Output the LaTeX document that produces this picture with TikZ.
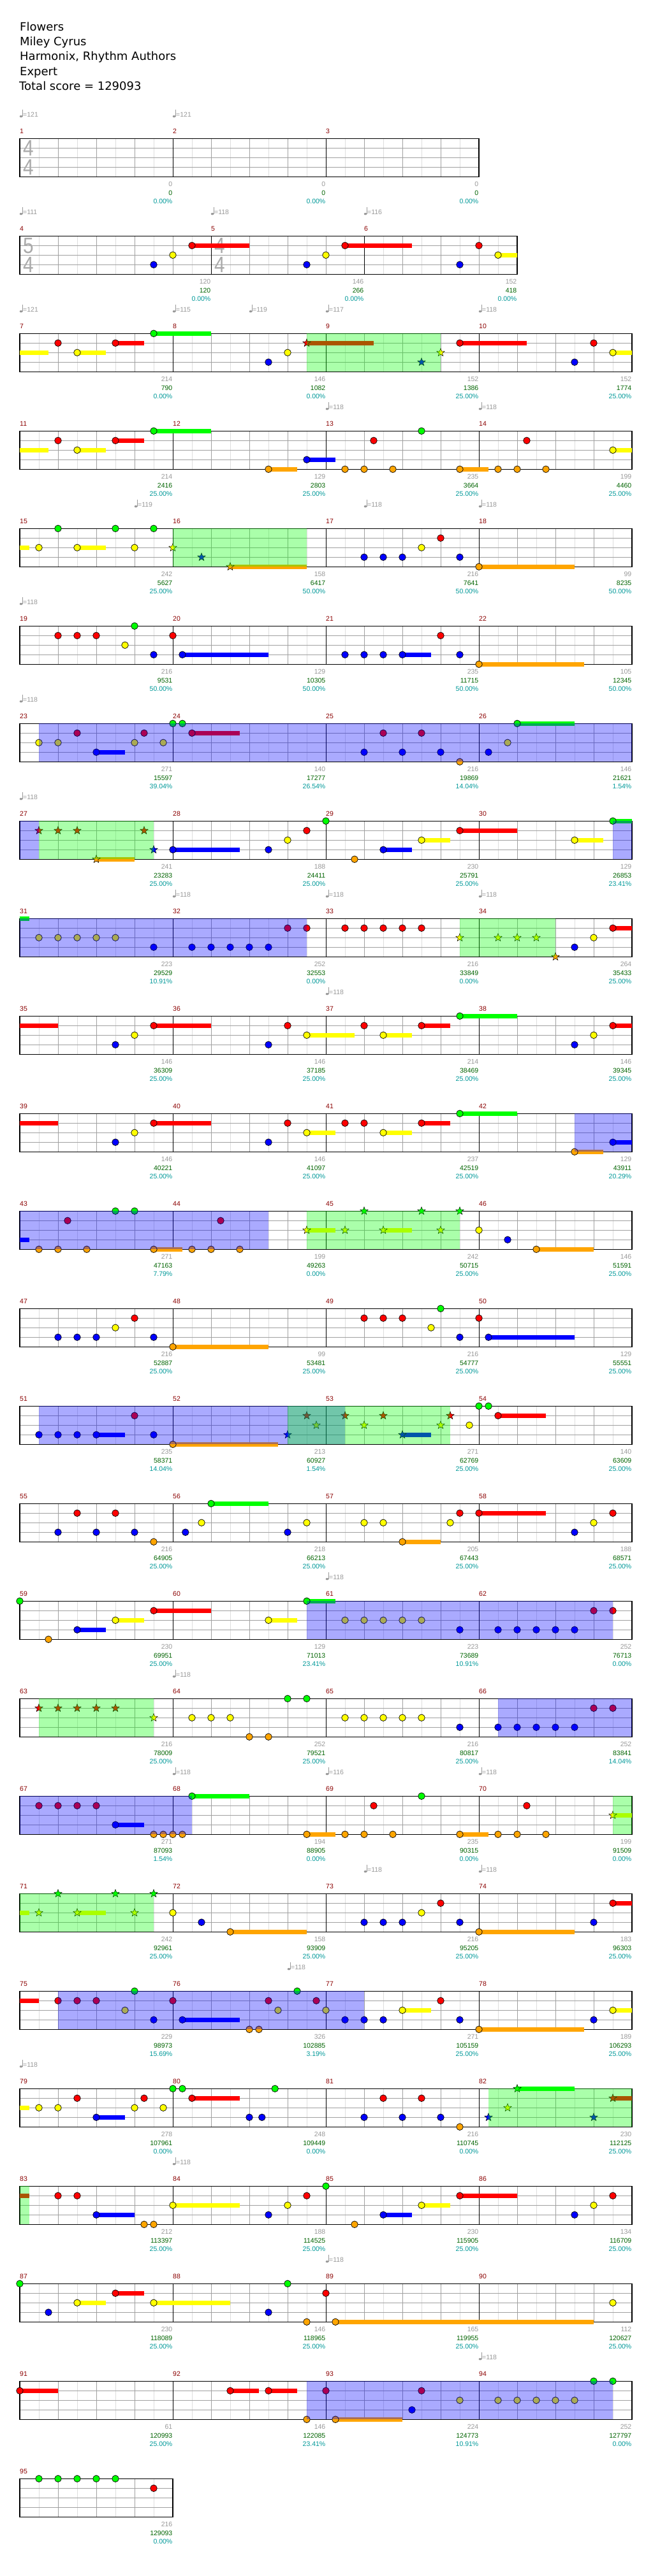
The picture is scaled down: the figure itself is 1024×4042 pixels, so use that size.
\documentclass[tikz,border=0pt]{standalone}
\usepackage{fontspec}
\setmainfont{Liberation Sans}
\newfontfamily\titlefont{DejaVu Sans}
\usetikzlibrary{shapes.geometric}
\definecolor{cG}{RGB}{0,255,0}
\definecolor{cR}{RGB}{255,0,0}
\definecolor{cY}{RGB}{255,255,0}
\definecolor{cB}{RGB}{0,0,255}
\definecolor{cO}{RGB}{255,165,0}
\colorlet{lane0}{cG}\colorlet{lane1}{cR}\colorlet{lane2}{cY}\colorlet{lane3}{cB}\colorlet{lane4}{cO}
\definecolor{gridlight}{RGB}{222,222,222}
\definecolor{gridmid}{RGB}{160,160,160}
\definecolor{mnum}{RGB}{139,0,0}
\definecolor{sgray}{RGB}{153,153,153}
\definecolor{sgreen}{RGB}{0,100,0}
\definecolor{steal}{RGB}{0,153,153}
\definecolor{tsig}{RGB}{170,170,170}
\newcount\xcnt
\tikzset{
  lbl/.style={inner sep=0pt,font=\fontsize{10.5}{12}\selectfont},
  notefill/.style={draw=black,line width=0.7pt},
}
\newcommand\xGrid[1]{%
 \pgfmathtruncatemacro\xh{2*#1-1}%
 \pgfmathtruncatemacro\xb{#1-1}%
 \foreach \i in {1,...,\xh}{\draw[gridlight,line width=1pt] ({30*\i},0) -- ({30*\i},-60);}%
 \foreach \i in {1,...,\xb}{\draw[gridmid,line width=1pt] ({60*\i},0) -- ({60*\i},-60);}%
 \foreach \j in {1,2,3}{\draw[gridmid,line width=1pt] (0,{-15*\j}) -- ({60*#1},{-15*\j});}%
}
\newcommand\xBars[1]{\foreach \b in {#1}{\draw[black,line width=0.8pt] ({60*\b},0) -- ({60*\b},-60);}}
\newcommand\xFrame[1]{\draw[black,line width=1.3pt] (0,0) rectangle ({60*#1},-60);}
\newcommand\xN[2]{\fill[lane#2,notefill] ({60*#1},{-15*#2}) circle[radius=5.3];}
\newcommand\xU[3]{\fill[lane#3] ({60*#1},{-15*#3-3.5}) rectangle ({60*#2},{-15*#3+3.5});}
\newcommand\xS[2]{\global\advance\xcnt by 1
 \node[star,star points=5,star point ratio=2.4,minimum size=13pt,inner sep=0pt,fill=lane#2,draw=black,line width=0.5pt] (st\the\xcnt) at ({60*#1},{-15*#2}) {};}
\newcommand\xSO[2]{\fill[cB,fill opacity=0.333] ({60*#1},0) rectangle ({60*#2},-60);}
\newcommand\xOD[2]{\fill[cG,fill opacity=0.333] ({60*#1},0) rectangle ({60*#2},-60);}
\newcommand\xMn[2]{\node[lbl,mnum,anchor=base west] (mn#2) at ({60*#1},7.3) {#2};}
\newcommand\xSc[5]{%
 \node[lbl,sgray,anchor=base east] (sa#2) at ({60*#1-0.5},-75.7) {#3};
 \node[lbl,sgreen,anchor=base east] (sb#2) at ({60*#1-0.5},-88.8) {#4};
 \node[lbl,steal,anchor=base east] (sc#2) at ({60*#1-0.5},-101.8) {#5};}
\newcommand\xTp[2]{\global\advance\xcnt by 1
 \fill[sgray] ({60*#1+2},34.6) ellipse[x radius=2.3,y radius=1.7];
 \draw[sgray,line width=0.7pt] ({60*#1+4},34.6) -- ({60*#1+4},45);
 \node[lbl,sgray,anchor=base west] (tp\the\xcnt) at ({60*#1+5},33.4) {=#2};}
\newcommand\xTS[3]{\global\advance\xcnt by 1
 \node[inner sep=0pt,tsig,font=\fontsize{35}{35}\selectfont] (ts\the\xcnt a) at ({60*#1+13.5},-15.2) {\scalebox{0.85}[1]{#2}};
 \node[inner sep=0pt,tsig,font=\fontsize{35}{35}\selectfont] (ts\the\xcnt b) at ({60*#1+13.5},-45.2) {\scalebox{0.85}[1]{#3}};}
\begin{document}
\begin{tikzpicture}[x=1pt,y=1pt]
\fill[white] (0,0) rectangle (1024,4042);
\useasboundingbox (0,0) rectangle (1024,4042);
% title block
\node[inner sep=0pt,anchor=base west,font=\titlefont\fontsize{18}{20}\selectfont] (t1) at (31,{4042-48.3}) {Flowers};
\node[inner sep=0pt,anchor=base west,font=\titlefont\fontsize{18}{20}\selectfont] (t2) at (31,{4042-71.6}) {Miley Cyrus};
\node[inner sep=0pt,anchor=base west,font=\titlefont\fontsize{18}{20}\selectfont] (t3) at (31,{4042-95}) {Harmonix, Rhythm Authors};
\node[inner sep=0pt,anchor=base west,font=\titlefont\fontsize{18}{20}\selectfont] (t4) at (31,{4042-118.3}) {Expert};
\node[inner sep=0pt,anchor=base west,font=\titlefont\fontsize{18}{20}\selectfont] (t5) at (30,{4042-141.3}) {Total score = 129093};

% Row 1
\begin{scope}[shift={(31,3824.7)}]
\xGrid{12}\xBars{4,8}\xFrame{12}
\xTS{0}{4}{4}
\xMn{0}{1}\xMn{4}{2}\xMn{8}{3}
\xSc{4}{1}{0}{0}{0.00\%}\xSc{8}{2}{0}{0}{0.00\%}\xSc{12}{3}{0}{0}{0.00\%}
\xTp{0}{121}\xTp{4}{121}
\end{scope}

% Row 2
\begin{scope}[shift={(31,3671.7)}]
\xGrid{13}\xBars{5,9}\xFrame{13}
\xTS{0}{5}{4}\xTS{5}{4}{4}
\xU{4.5}{6}{1}\xN{4.5}{1}\xN{4}{2}\xN{3.5}{3}
\xU{8.5}{10.25}{1}\xN{8.5}{1}\xN{8}{2}\xN{7.5}{3}
\xN{12}{1}\xU{12.5}{13}{2}\xN{12.5}{2}\xN{11.5}{3}
\xMn{0}{4}\xMn{5}{5}\xMn{9}{6}
\xSc{5}{4}{120}{120}{0.00\%}\xSc{9}{5}{146}{266}{0.00\%}\xSc{13}{6}{152}{418}{0.00\%}
\xTp{0}{111}\xTp{5}{118}\xTp{9}{116}
\end{scope}

% Row 3
\begin{scope}[shift={(31,3518.7)}]
\xGrid{16}\xBars{4,8,12}\xFrame{16}
\xU{0}{0.75}{2}\xN{1}{1}\xU{1.5}{2.25}{2}\xN{1.5}{2}\xU{2.5}{3.25}{1}\xN{2.5}{1}\xU{3.5}{5}{0}\xN{3.5}{0}
\xN{6.5}{3}\xN{7}{2}\xU{7.5}{9.25}{1}\xS{7.5}{1}\xS{10.5}{3}\xS{11}{2}
\xU{11.5}{13.25}{1}\xN{11.5}{1}\xN{14.5}{3}\xN{15}{1}\xU{15.5}{16}{2}\xN{15.5}{2}
\xOD{7.5}{11}
\xMn{0}{7}\xMn{4}{8}\xMn{8}{9}\xMn{12}{10}
\xSc{4}{7}{214}{790}{0.00\%}\xSc{8}{8}{146}{1082}{0.00\%}\xSc{12}{9}{152}{1386}{25.00\%}\xSc{16}{10}{152}{1774}{25.00\%}
\xTp{0}{121}\xTp{4}{115}\xTp{6}{119}\xTp{8}{117}\xTp{12}{118}
\end{scope}

% Row 4
\begin{scope}[shift={(31,3365.7)}]
\xGrid{16}\xBars{4,8,12}\xFrame{16}
\xU{0}{0.75}{2}\xN{1}{1}\xU{1.5}{2.25}{2}\xN{1.5}{2}\xU{2.5}{3.25}{1}\xN{2.5}{1}\xU{3.5}{5}{0}\xN{3.5}{0}
\xU{6.5}{7.25}{4}\xN{6.5}{4}\xU{7.5}{8.25}{3}\xN{7.5}{3}\xN{8.5}{4}\xN{9}{4}\xN{9.25}{1}\xN{9.75}{4}\xN{10.5}{0}
\xU{11.5}{12.25}{4}\xN{11.5}{4}\xN{12.5}{4}\xN{13}{4}\xN{13.25}{1}\xN{13.75}{4}\xU{15.5}{16}{2}\xN{15.5}{2}
\xMn{0}{11}\xMn{4}{12}\xMn{8}{13}\xMn{12}{14}
\xSc{4}{11}{214}{2416}{25.00\%}\xSc{8}{12}{129}{2803}{25.00\%}\xSc{12}{13}{235}{3664}{25.00\%}\xSc{16}{14}{199}{4460}{25.00\%}
\xTp{8}{118}\xTp{12}{118}
\end{scope}

% Row 5
\begin{scope}[shift={(31,3212.7)}]
\xGrid{16}\xBars{4,8,12}\xFrame{16}
\xU{0}{0.25}{2}\xN{0.5}{2}\xN{1}{0}\xU{1.5}{2.25}{2}\xN{1.5}{2}\xN{2.5}{0}\xN{3}{2}\xN{3.5}{0}
\xS{4}{2}\xS{4.75}{3}\xU{5.5}{7.5}{4}\xS{5.5}{4}
\xN{9}{3}\xN{9.5}{3}\xN{10}{3}\xN{10.5}{2}\xN{11}{1}\xN{11.5}{3}\xU{12}{14.5}{4}\xN{12}{4}
\xOD{4}{7.5}
\xMn{0}{15}\xMn{4}{16}\xMn{8}{17}\xMn{12}{18}
\xSc{4}{15}{242}{5627}{25.00\%}\xSc{8}{16}{158}{6417}{50.00\%}\xSc{12}{17}{216}{7641}{50.00\%}\xSc{16}{18}{99}{8235}{50.00\%}
\xTp{3}{119}\xTp{9}{118}\xTp{12}{118}
\end{scope}

% Row 6
\begin{scope}[shift={(31,3059.7)}]
\xGrid{16}\xBars{4,8,12}\xFrame{16}
\xN{1}{1}\xN{1.5}{1}\xN{2}{1}\xN{2.75}{2}\xN{3}{0}\xN{3.5}{3}\xN{4}{1}\xU{4.25}{6.5}{3}\xN{4.25}{3}
\xN{8.5}{3}\xN{9}{3}\xN{9.5}{3}\xU{10}{10.75}{3}\xN{10}{3}\xN{11}{1}\xN{11.5}{3}\xU{12}{14.75}{4}\xN{12}{4}
\xMn{0}{19}\xMn{4}{20}\xMn{8}{21}\xMn{12}{22}
\xSc{4}{19}{216}{9531}{50.00\%}\xSc{8}{20}{129}{10305}{50.00\%}\xSc{12}{21}{235}{11715}{50.00\%}\xSc{16}{22}{105}{12345}{50.00\%}
\xTp{0}{118}
\end{scope}

% Row 7
\begin{scope}[shift={(31,2906.7)}]
\xGrid{16}\xBars{4,8,12}\xFrame{16}
\xN{0.5}{2}\xN{1}{2}\xN{1.5}{1}\xU{2}{2.75}{3}\xN{2}{3}\xN{3}{2}\xN{3.25}{1}\xN{3.75}{2}\xN{4}{0}\xN{4.25}{0}\xU{4.5}{5.75}{1}\xN{4.5}{1}
\xN{9}{3}\xN{9.5}{1}\xN{10}{3}\xN{10.5}{1}\xN{11}{3}\xN{11.5}{4}\xN{12.25}{3}\xN{12.75}{2}\xU{13}{14.5}{0}\xN{13}{0}
\xSO{0.5}{16}
\xMn{0}{23}\xMn{4}{24}\xMn{8}{25}\xMn{12}{26}
\xSc{4}{23}{271}{15597}{39.04\%}\xSc{8}{24}{140}{17277}{26.54\%}\xSc{12}{25}{216}{19869}{14.04\%}\xSc{16}{26}{146}{21621}{1.54\%}
\xTp{0}{118}
\end{scope}

% Row 8
\begin{scope}[shift={(31,2753.7)}]
\xGrid{16}\xBars{4,8,12}\xFrame{16}
\xS{0.5}{1}\xS{1}{1}\xS{1.5}{1}\xU{2}{3}{4}\xS{2}{4}\xS{3.25}{1}\xS{3.5}{3}
\xU{4}{5.75}{3}\xN{4}{3}\xN{6.5}{3}\xN{7}{2}\xN{7.5}{1}\xN{8}{0}\xN{8.75}{4}
\xU{9.5}{10.25}{3}\xN{9.5}{3}\xU{10.5}{11.25}{2}\xN{10.5}{2}\xU{11.5}{13}{1}\xN{11.5}{1}
\xU{14.5}{15.25}{2}\xN{14.5}{2}\xU{15.5}{16}{0}\xN{15.5}{0}
\xSO{0}{0.5}\xOD{0.5}{3.5}\xSO{15.5}{16}
\xMn{0}{27}\xMn{4}{28}\xMn{8}{29}\xMn{12}{30}
\xSc{4}{27}{241}{23283}{25.00\%}\xSc{8}{28}{188}{24411}{25.00\%}\xSc{12}{29}{230}{25791}{25.00\%}\xSc{16}{30}{129}{26853}{23.41\%}
\xTp{0}{118}
\end{scope}

% Row 9
\begin{scope}[shift={(31,2600.7)}]
\xGrid{16}\xBars{4,8,12}\xFrame{16}
\xU{0}{0.25}{0}\xN{0.5}{2}\xN{1}{2}\xN{1.5}{2}\xN{2}{2}\xN{2.5}{2}\xN{3.5}{3}
\xN{4.5}{3}\xN{5}{3}\xN{5.5}{3}\xN{6}{3}\xN{6.5}{3}\xN{7}{1}\xN{7.5}{1}
\xN{8.5}{1}\xN{9}{1}\xN{9.5}{1}\xN{10}{1}\xN{10.5}{1}
\xS{11.5}{2}\xS{12.5}{2}\xS{13}{2}\xS{13.5}{2}\xS{14}{4}\xN{14.5}{3}\xN{15}{2}\xU{15.5}{16}{1}\xN{15.5}{1}
\xSO{0}{7.5}\xOD{11.5}{14}
\xMn{0}{31}\xMn{4}{32}\xMn{8}{33}\xMn{12}{34}
\xSc{4}{31}{223}{29529}{10.91\%}\xSc{8}{32}{252}{32553}{0.00\%}\xSc{12}{33}{216}{33849}{0.00\%}\xSc{16}{34}{264}{35433}{25.00\%}
\xTp{4}{118}\xTp{8}{118}\xTp{12}{118}
\end{scope}

% Row 10
\begin{scope}[shift={(31,2447.7)}]
\xGrid{16}\xBars{4,8,12}\xFrame{16}
\xU{0}{1}{1}\xN{2.5}{3}\xN{3}{2}\xU{3.5}{5}{1}\xN{3.5}{1}\xN{6.5}{3}\xN{7}{1}\xU{7.5}{8.75}{2}\xN{7.5}{2}
\xN{9}{1}\xU{9.5}{10.25}{2}\xN{9.5}{2}\xU{10.5}{11.25}{1}\xN{10.5}{1}\xU{11.5}{13}{0}\xN{11.5}{0}
\xN{14.5}{3}\xN{15}{2}\xU{15.5}{16}{1}\xN{15.5}{1}
\xMn{0}{35}\xMn{4}{36}\xMn{8}{37}\xMn{12}{38}
\xSc{4}{35}{146}{36309}{25.00\%}\xSc{8}{36}{146}{37185}{25.00\%}\xSc{12}{37}{214}{38469}{25.00\%}\xSc{16}{38}{146}{39345}{25.00\%}
\xTp{8}{118}
\end{scope}

% Row 11
\begin{scope}[shift={(31,2294.7)}]
\xGrid{16}\xBars{4,8,12}\xFrame{16}
\xU{0}{1}{1}\xN{2.5}{3}\xN{3}{2}\xU{3.5}{5}{1}\xN{3.5}{1}\xN{6.5}{3}\xN{7}{1}\xU{7.5}{8.25}{2}\xN{7.5}{2}
\xN{8.5}{1}\xN{9}{1}\xU{9.5}{10.25}{2}\xN{9.5}{2}\xU{10.5}{11.25}{1}\xN{10.5}{1}\xU{11.5}{13}{0}\xN{11.5}{0}
\xU{14.5}{15.25}{4}\xN{14.5}{4}\xU{15.5}{16}{3}\xN{15.5}{3}
\xSO{14.5}{16}
\xMn{0}{39}\xMn{4}{40}\xMn{8}{41}\xMn{12}{42}
\xSc{4}{39}{146}{40221}{25.00\%}\xSc{8}{40}{146}{41097}{25.00\%}\xSc{12}{41}{237}{42519}{25.00\%}\xSc{16}{42}{129}{43911}{20.29\%}
\end{scope}

% Row 12
\begin{scope}[shift={(31,2141.7)}]
\xGrid{16}\xBars{4,8,12}\xFrame{16}
\xU{0}{0.25}{3}\xN{0.5}{4}\xN{1}{4}\xN{1.25}{1}\xN{1.75}{4}\xN{2.5}{0}\xN{3}{0}\xU{3.5}{4.25}{4}\xN{3.5}{4}
\xN{4.5}{4}\xN{5}{4}\xN{5.25}{1}\xN{5.75}{4}
\xU{7.5}{8.25}{2}\xS{7.5}{2}\xS{8.5}{2}\xS{9}{0}\xU{9.5}{10.25}{2}\xS{9.5}{2}\xS{10.5}{0}\xS{11}{2}\xS{11.5}{0}
\xN{12}{2}\xN{12.75}{3}\xU{13.5}{15}{4}\xN{13.5}{4}
\xSO{0}{6.5}\xOD{7.5}{11.5}
\xMn{0}{43}\xMn{4}{44}\xMn{8}{45}\xMn{12}{46}
\xSc{4}{43}{271}{47163}{7.79\%}\xSc{8}{44}{199}{49263}{0.00\%}\xSc{12}{45}{242}{50715}{25.00\%}\xSc{16}{46}{146}{51591}{25.00\%}
\end{scope}

% Row 13
\begin{scope}[shift={(31,1988.7)}]
\xGrid{16}\xBars{4,8,12}\xFrame{16}
\xN{1}{3}\xN{1.5}{3}\xN{2}{3}\xN{2.5}{2}\xN{3}{1}\xN{3.5}{3}\xU{4}{6.5}{4}\xN{4}{4}
\xN{9}{1}\xN{9.5}{1}\xN{10}{1}\xN{10.75}{2}\xN{11}{0}\xN{11.5}{3}\xN{12}{1}\xU{12.25}{14.5}{3}\xN{12.25}{3}
\xMn{0}{47}\xMn{4}{48}\xMn{8}{49}\xMn{12}{50}
\xSc{4}{47}{216}{52887}{25.00\%}\xSc{8}{48}{99}{53481}{25.00\%}\xSc{12}{49}{216}{54777}{25.00\%}\xSc{16}{50}{129}{55551}{25.00\%}
\end{scope}

% Row 14
\begin{scope}[shift={(31,1835.7)}]
\xGrid{16}\xBars{4,8,12}\xFrame{16}
\xN{0.5}{3}\xN{1}{3}\xN{1.5}{3}\xU{2}{2.75}{3}\xN{2}{3}\xN{3}{1}\xN{3.5}{3}\xU{4}{6.75}{4}\xN{4}{4}
\xS{7}{3}\xS{7.5}{1}\xS{7.75}{2}\xS{8.5}{1}\xS{9}{2}\xS{9.5}{1}\xU{10}{10.75}{3}\xS{10}{3}\xS{11}{2}\xS{11.25}{1}
\xN{11.75}{2}\xN{12}{0}\xN{12.25}{0}\xU{12.5}{13.75}{1}\xN{12.5}{1}
\xSO{0.5}{8.5}\xOD{7}{11.25}
\xMn{0}{51}\xMn{4}{52}\xMn{8}{53}\xMn{12}{54}
\xSc{4}{51}{235}{58371}{14.04\%}\xSc{8}{52}{213}{60927}{1.54\%}\xSc{12}{53}{271}{62769}{25.00\%}\xSc{16}{54}{140}{63609}{25.00\%}
\end{scope}

% Row 15
\begin{scope}[shift={(31,1682.7)}]
\xGrid{16}\xBars{4,8,12}\xFrame{16}
\xN{1}{3}\xN{1.5}{1}\xN{2}{3}\xN{2.5}{1}\xN{3}{3}\xN{3.5}{4}\xN{4.33}{3}\xN{4.75}{2}\xU{5}{6.5}{0}\xN{5}{0}\xN{7}{3}\xN{7.5}{2}
\xN{9}{2}\xN{9.5}{2}\xU{10}{11}{4}\xN{10}{4}\xN{11.25}{2}\xN{11.5}{1}\xU{12}{13.75}{1}\xN{12}{1}\xN{14.5}{3}\xN{15}{2}\xN{15.5}{1}
\xMn{0}{55}\xMn{4}{56}\xMn{8}{57}\xMn{12}{58}
\xSc{4}{55}{216}{64905}{25.00\%}\xSc{8}{56}{218}{66213}{25.00\%}\xSc{12}{57}{205}{67443}{25.00\%}\xSc{16}{58}{188}{68571}{25.00\%}
\end{scope}

% Row 16
\begin{scope}[shift={(31,1529.7)}]
\xGrid{16}\xBars{4,8,12}\xFrame{16}
\xN{0}{0}\xN{0.75}{4}\xU{1.5}{2.25}{3}\xN{1.5}{3}\xU{2.5}{3.25}{2}\xN{2.5}{2}\xU{3.5}{5}{1}\xN{3.5}{1}
\xU{6.5}{7.25}{2}\xN{6.5}{2}\xU{7.5}{8.25}{0}\xN{7.5}{0}
\xN{8.5}{2}\xN{9}{2}\xN{9.5}{2}\xN{10}{2}\xN{10.5}{2}\xN{11.5}{3}\xN{12.5}{3}\xN{13}{3}\xN{13.5}{3}\xN{14}{3}\xN{14.5}{3}\xN{15}{1}\xN{15.5}{1}
\xSO{7.5}{15.5}
\xMn{0}{59}\xMn{4}{60}\xMn{8}{61}\xMn{12}{62}
\xSc{4}{59}{230}{69951}{25.00\%}\xSc{8}{60}{129}{71013}{23.41\%}\xSc{12}{61}{223}{73689}{10.91\%}\xSc{16}{62}{252}{76713}{0.00\%}
\xTp{8}{118}
\end{scope}

% Row 17
\begin{scope}[shift={(31,1376.7)}]
\xGrid{16}\xBars{4,8,12}\xFrame{16}
\xS{0.5}{1}\xS{1}{1}\xS{1.5}{1}\xS{2}{1}\xS{2.5}{1}\xS{3.5}{2}
\xN{4.5}{2}\xN{5}{2}\xN{5.5}{2}\xN{6}{4}\xN{6.5}{4}\xN{7}{0}\xN{7.5}{0}
\xN{8.5}{2}\xN{9}{2}\xN{9.5}{2}\xN{10}{2}\xN{10.5}{2}\xN{11.5}{3}\xN{12.5}{3}\xN{13}{3}\xN{13.5}{3}\xN{14}{3}\xN{14.5}{3}\xN{15}{1}\xN{15.5}{1}
\xOD{0.5}{3.5}\xSO{12.5}{16}
\xMn{0}{63}\xMn{4}{64}\xMn{8}{65}\xMn{12}{66}
\xSc{4}{63}{216}{78009}{25.00\%}\xSc{8}{64}{252}{79521}{25.00\%}\xSc{12}{65}{216}{80817}{25.00\%}\xSc{16}{66}{252}{83841}{14.04\%}
\xTp{4}{118}
\end{scope}

% Row 18
\begin{scope}[shift={(31,1223.7)}]
\xGrid{16}\xBars{4,8,12}\xFrame{16}
\xN{0.5}{1}\xN{1}{1}\xN{1.5}{1}\xN{2}{1}\xU{2.5}{3.25}{3}\xN{2.5}{3}\xN{3.5}{4}\xN{3.75}{4}\xN{4}{4}\xN{4.25}{4}\xU{4.5}{6}{0}\xN{4.5}{0}
\xU{7.5}{8.25}{4}\xN{7.5}{4}\xN{8.5}{4}\xN{9}{4}\xN{9.25}{1}\xN{9.75}{4}\xN{10.5}{0}
\xU{11.5}{12.25}{4}\xN{11.5}{4}\xN{12.5}{4}\xN{13}{4}\xN{13.25}{1}\xN{13.75}{4}\xU{15.5}{16}{2}\xS{15.5}{2}
\xSO{0}{4.5}\xOD{15.5}{16}
\xMn{0}{67}\xMn{4}{68}\xMn{8}{69}\xMn{12}{70}
\xSc{4}{67}{271}{87093}{1.54\%}\xSc{8}{68}{194}{88905}{0.00\%}\xSc{12}{69}{235}{90315}{0.00\%}\xSc{16}{70}{199}{91509}{0.00\%}
\xTp{4}{118}\xTp{8}{116}\xTp{12}{118}
\end{scope}

% Row 19
\begin{scope}[shift={(31,1070.7)}]
\xGrid{16}\xBars{4,8,12}\xFrame{16}
\xU{0}{0.25}{2}\xS{0.5}{2}\xS{1}{0}\xU{1.5}{2.25}{2}\xS{1.5}{2}\xS{2.5}{0}\xS{3}{2}\xS{3.5}{0}
\xN{4}{2}\xN{4.75}{3}\xU{5.5}{7.5}{4}\xN{5.5}{4}
\xN{9}{3}\xN{9.5}{3}\xN{10}{3}\xN{10.5}{2}\xN{11}{1}\xN{11.5}{3}\xU{12}{14.5}{4}\xN{12}{4}\xN{15}{3}\xU{15.5}{16}{1}\xN{15.5}{1}
\xOD{0}{3.5}
\xMn{0}{71}\xMn{4}{72}\xMn{8}{73}\xMn{12}{74}
\xSc{4}{71}{242}{92961}{25.00\%}\xSc{8}{72}{158}{93909}{25.00\%}\xSc{12}{73}{216}{95205}{25.00\%}\xSc{16}{74}{183}{96303}{25.00\%}
\xTp{9}{118}\xTp{12}{118}
\end{scope}

% Row 20
\begin{scope}[shift={(31,917.7)}]
\xGrid{16}\xBars{4,8,12}\xFrame{16}
\xU{0}{0.5}{1}\xN{1}{1}\xN{1.5}{1}\xN{2}{1}\xN{2.75}{2}\xN{3}{0}\xN{3.5}{3}\xN{4}{1}\xU{4.25}{5.75}{3}\xN{4.25}{3}
\xN{6}{4}\xN{6.25}{4}\xN{6.5}{1}\xN{6.75}{2}\xN{7.25}{0}\xN{7.75}{1}\xN{8}{2}\xN{8.5}{3}\xN{9}{3}\xN{9.5}{3}
\xU{10}{10.75}{2}\xN{10}{2}\xN{11}{1}\xN{11.5}{3}\xU{12}{14.75}{4}\xN{12}{4}\xN{15}{3}\xU{15.5}{16}{2}\xN{15.5}{2}
\xSO{1}{9}
\xMn{0}{75}\xMn{4}{76}\xMn{8}{77}\xMn{12}{78}
\xSc{4}{75}{229}{98973}{15.69\%}\xSc{8}{76}{326}{102885}{3.19\%}\xSc{12}{77}{271}{105159}{25.00\%}\xSc{16}{78}{189}{106293}{25.00\%}
\xTp{7}{118}
\end{scope}

% Row 21
\begin{scope}[shift={(31,764.7)}]
\xGrid{16}\xBars{4,8,12}\xFrame{16}
\xU{0}{0.25}{2}\xN{0.5}{2}\xN{1}{2}\xN{1.5}{1}\xU{2}{2.75}{3}\xN{2}{3}\xN{3}{2}\xN{3.25}{1}\xN{3.75}{2}\xN{4}{0}\xN{4.25}{0}
\xU{4.5}{5.75}{1}\xN{4.5}{1}\xN{6}{3}\xN{6.33}{3}\xN{6.67}{0}
\xN{9}{3}\xN{9.5}{1}\xN{10}{3}\xN{10.5}{1}\xN{11}{3}\xN{11.5}{4}
\xS{12.25}{3}\xS{12.75}{2}\xU{13}{14.5}{0}\xS{13}{0}\xS{15}{3}\xU{15.5}{16}{1}\xS{15.5}{1}
\xOD{12.25}{16}
\xMn{0}{79}\xMn{4}{80}\xMn{8}{81}\xMn{12}{82}
\xSc{4}{79}{278}{107961}{0.00\%}\xSc{8}{80}{248}{109449}{0.00\%}\xSc{12}{81}{216}{110745}{0.00\%}\xSc{16}{82}{230}{112125}{25.00\%}
\xTp{0}{118}
\end{scope}

% Row 22
\begin{scope}[shift={(31,611.7)}]
\xGrid{16}\xBars{4,8,12}\xFrame{16}
\xU{0}{0.25}{1}\xN{1}{1}\xN{1.5}{1}\xU{2}{3}{3}\xN{2}{3}\xN{3.25}{4}\xN{3.5}{4}\xU{4}{5.75}{2}\xN{4}{2}
\xN{6.5}{3}\xN{7}{2}\xN{7.5}{1}\xN{8}{0}\xN{8.75}{4}\xU{9.5}{10.25}{3}\xN{9.5}{3}\xU{10.5}{11.25}{2}\xN{10.5}{2}
\xU{11.5}{13}{1}\xN{11.5}{1}\xN{14.5}{3}\xN{15}{2}\xN{15.5}{1}
\xOD{0}{0.25}
\xMn{0}{83}\xMn{4}{84}\xMn{8}{85}\xMn{12}{86}
\xSc{4}{83}{212}{113397}{25.00\%}\xSc{8}{84}{188}{114525}{25.00\%}\xSc{12}{85}{230}{115905}{25.00\%}\xSc{16}{86}{134}{116709}{25.00\%}
\xTp{4}{118}
\end{scope}

% Row 23
\begin{scope}[shift={(31,458.7)}]
\xGrid{16}\xBars{4,8,12}\xFrame{16}
\xN{0}{0}\xN{0.75}{3}\xU{1.5}{2.25}{2}\xN{1.5}{2}\xU{2.5}{3.25}{1}\xN{2.5}{1}\xU{3.5}{5.5}{2}\xN{3.5}{2}
\xN{6.5}{3}\xN{7}{0}\xN{7.5}{4}\xN{8}{1}\xU{8.25}{15}{4}\xN{8.25}{4}\xN{15.5}{2}
\xMn{0}{87}\xMn{4}{88}\xMn{8}{89}\xMn{12}{90}
\xSc{4}{87}{230}{118089}{25.00\%}\xSc{8}{88}{146}{118965}{25.00\%}\xSc{12}{89}{165}{119955}{25.00\%}\xSc{16}{90}{112}{120627}{25.00\%}
\xTp{8}{118}
\end{scope}

% Row 24
\begin{scope}[shift={(31,305.7)}]
\xGrid{16}\xBars{4,8,12}\xFrame{16}
\xU{0}{1}{1}\xN{0}{1}\xU{5.5}{6.25}{1}\xN{5.5}{1}\xU{6.5}{7.25}{1}\xN{6.5}{1}
\xN{7.5}{4}\xN{8}{1}\xU{8.25}{10}{4}\xN{8.25}{4}\xN{10.25}{3}\xN{10.5}{1}
\xN{11.5}{2}\xN{12.5}{2}\xN{13}{2}\xN{13.5}{2}\xN{14}{2}\xN{14.5}{2}\xN{15}{0}\xN{15.5}{0}
\xSO{7.5}{15.5}
\xMn{0}{91}\xMn{4}{92}\xMn{8}{93}\xMn{12}{94}
\xSc{4}{91}{61}{120993}{25.00\%}\xSc{8}{92}{146}{122085}{23.41\%}\xSc{12}{93}{224}{124773}{10.91\%}\xSc{16}{94}{252}{127797}{0.00\%}
\xTp{12}{118}
\end{scope}

% Row 25
\begin{scope}[shift={(31,152.7)}]
\xGrid{4}\xFrame{4}
\xN{0.5}{0}\xN{1}{0}\xN{1.5}{0}\xN{2}{0}\xN{2.5}{0}\xN{3.5}{1}
\xMn{0}{95}
\xSc{4}{95}{216}{129093}{0.00\%}
\end{scope}
\end{tikzpicture}
\end{document}
